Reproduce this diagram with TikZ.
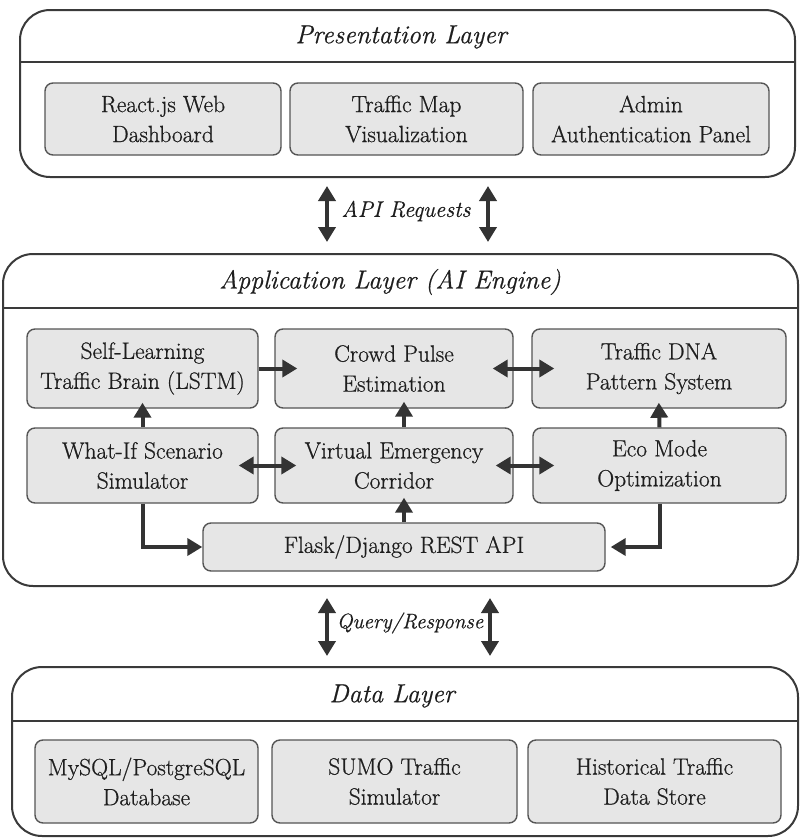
\documentclass[tikz,border=0pt]{standalone}
\usepackage{fontspec}
\setmainfont{Latin Modern Roman}[FakeBold=0.7, ItalicFeatures={FakeBold=0.6}]
\usetikzlibrary{arrows.meta}
\definecolor{ink}{HTML}{1E1E1E}
\definecolor{boxfill}{HTML}{E6E6E6}
\definecolor{boxline}{HTML}{555555}
\definecolor{outline}{HTML}{3A3A3A}
\definecolor{arrowc}{HTML}{333333}
\tikzset{
  layer/.style={draw=outline, line width=2pt, rounded corners=30pt, fill=white, inner sep=0pt},
  divider/.style={draw=outline, line width=2pt},
  ltitle/.style={text=ink, font=\fontsize{26}{30}\selectfont\itshape},
  compbox/.style={draw=boxline, line width=1.4pt, fill=boxfill, rounded corners=8pt,
     align=center, text=ink, font=\fontsize{23.5}{30}\selectfont, inner sep=0pt},
  flow/.style={draw=arrowc, line width=4pt, -{Triangle[length=15pt,width=17pt]}},
  dflow/.style={draw=arrowc, line width=4pt, {Triangle[length=15pt,width=17pt]}-{Triangle[length=15pt,width=17pt]}},
  alabel/.style={text=ink, font=\fontsize{22.5}{26}\selectfont\itshape},
}
\begin{document}
\begin{tikzpicture}[x=1pt,y=-1pt]
\useasboundingbox (0,0) rectangle (800,839);

% ---------- Presentation layer ----------
\node[layer, minimum width=775pt, minimum height=167pt] (pres) at (407.5,93.5) {};
\coordinate (pdl) at (20,62); \coordinate (pdr) at (795,62);
\draw[divider] (pdl) -- (pdr);
\node[ltitle] (ptitle) at (401,37) {Presentation Layer};
\node[compbox, minimum width=236pt, minimum height=72pt] (react) at (163,119) {React.js Web\\Dashboard};
\node[compbox, minimum width=233pt, minimum height=72pt] (tmap) at (406.5,119) {Traffic Map\\Visualization};
\node[compbox, minimum width=236pt, minimum height=72pt] (admin) at (651,119) {Admin\\Authentication Panel};

% ---------- Application layer ----------
\node[layer, minimum width=795pt, minimum height=332pt] (app) at (400.5,420) {};
\coordinate (adl) at (3,308); \coordinate (adr) at (798,308);
\draw[divider] (adl) -- (adr);
\node[ltitle] (atitle) at (390,282) {Application Layer (AI Engine)};

\node[compbox, minimum width=231pt, minimum height=79pt] (sl) at (142.5,368.5) {Self-Learning\\Traffic Brain (LSTM)};
\node[compbox, minimum width=238pt, minimum height=79pt] (cp) at (394,368.5) {Crowd Pulse\\Estimation};
\node[compbox, minimum width=254pt, minimum height=79pt] (dna) at (659,368.5) {Traffic DNA\\Pattern System};
\node[compbox, minimum width=231pt, minimum height=75pt] (wi) at (142.5,465.5) {What-If Scenario\\Simulator};
\node[compbox, minimum width=238pt, minimum height=75pt] (ve) at (394,465.5) {Virtual Emergency\\Corridor};
\node[compbox, minimum width=253pt, minimum height=75pt] (eco) at (659.5,465.5) {Eco Mode\\Optimization};
\node[compbox, minimum width=402pt, minimum height=48pt] (flask) at (404,547) {Flask/Django REST API};

% arrows inside application layer
\draw[flow, shorten >=-23pt] (sl.east) -- (cp.west);
\draw[dflow, shorten <=-21pt, shorten >=-23pt] (cp.east) -- (dna.west);
\draw[dflow, shorten <=-20pt, shorten >=-22pt] (wi.east) -- (ve.west);
\draw[dflow, shorten <=-18pt, shorten >=-22pt] (ve.east) -- (eco.west);
\draw[flow, shorten >=-6pt] (wi.north) -- (sl.south);
\draw[flow, shorten >=-7pt] (flask.north |- ve.north) -- (flask.north |- cp.south);
\draw[flow, shorten >=-6pt] (eco.north) -- (dna.south);
\draw[flow, shorten >=-6pt] (flask.north) -- (flask.north |- ve.south);
\draw[flow, line join=miter] (wi.south) |- (flask.west);
\draw[flow, line join=miter, shorten >=5pt] (eco.south) |- (flask.east);

% ---------- Data layer ----------
\node[layer, minimum width=786pt, minimum height=169pt] (data) at (405,751.5) {};
\coordinate (ddl) at (12,721); \coordinate (ddr) at (798,721);
\draw[divider] (ddl) -- (ddr);
\node[ltitle] (dtitle) at (392,696) {Data Layer};
\node[compbox, minimum width=223pt, minimum height=83pt] (db) at (146.5,781.5) {MySQL/PostgreSQL\\Database};
\node[compbox, minimum width=245pt, minimum height=83pt] (sumo) at (394.5,781.5) {SUMO Traffic\\Simulator};
\node[compbox, minimum width=253pt, minimum height=83pt] (hist) at (654.5,781.5) {Historical Traffic\\Data Store};

% ---------- inter-layer arrows ----------
\coordinate (apiL) at (327,0);
\coordinate (apiR) at (488,0);
\coordinate (qL) at (327,0);
\coordinate (qR) at (490,0);
\draw[dflow, shorten <=8pt, shorten >=11pt] (pres.south -| apiL) -- (app.north -| apiL);
\draw[dflow, shorten <=8pt, shorten >=11pt] (pres.south -| apiR) -- (app.north -| apiR);
\node[alabel] (apilabel) at (406,211) {API Requests};
\draw[dflow, shorten <=11pt, shorten >=10pt] (app.south -| qL) -- (data.north -| qL);
\draw[dflow, shorten <=11pt, shorten >=10pt] (app.south -| qR) -- (data.north -| qR);
\node[alabel, font=\fontsize{21}{26}\selectfont\itshape] (qlabel) at (410,623) {Query/Response};
\end{tikzpicture}
\end{document}
